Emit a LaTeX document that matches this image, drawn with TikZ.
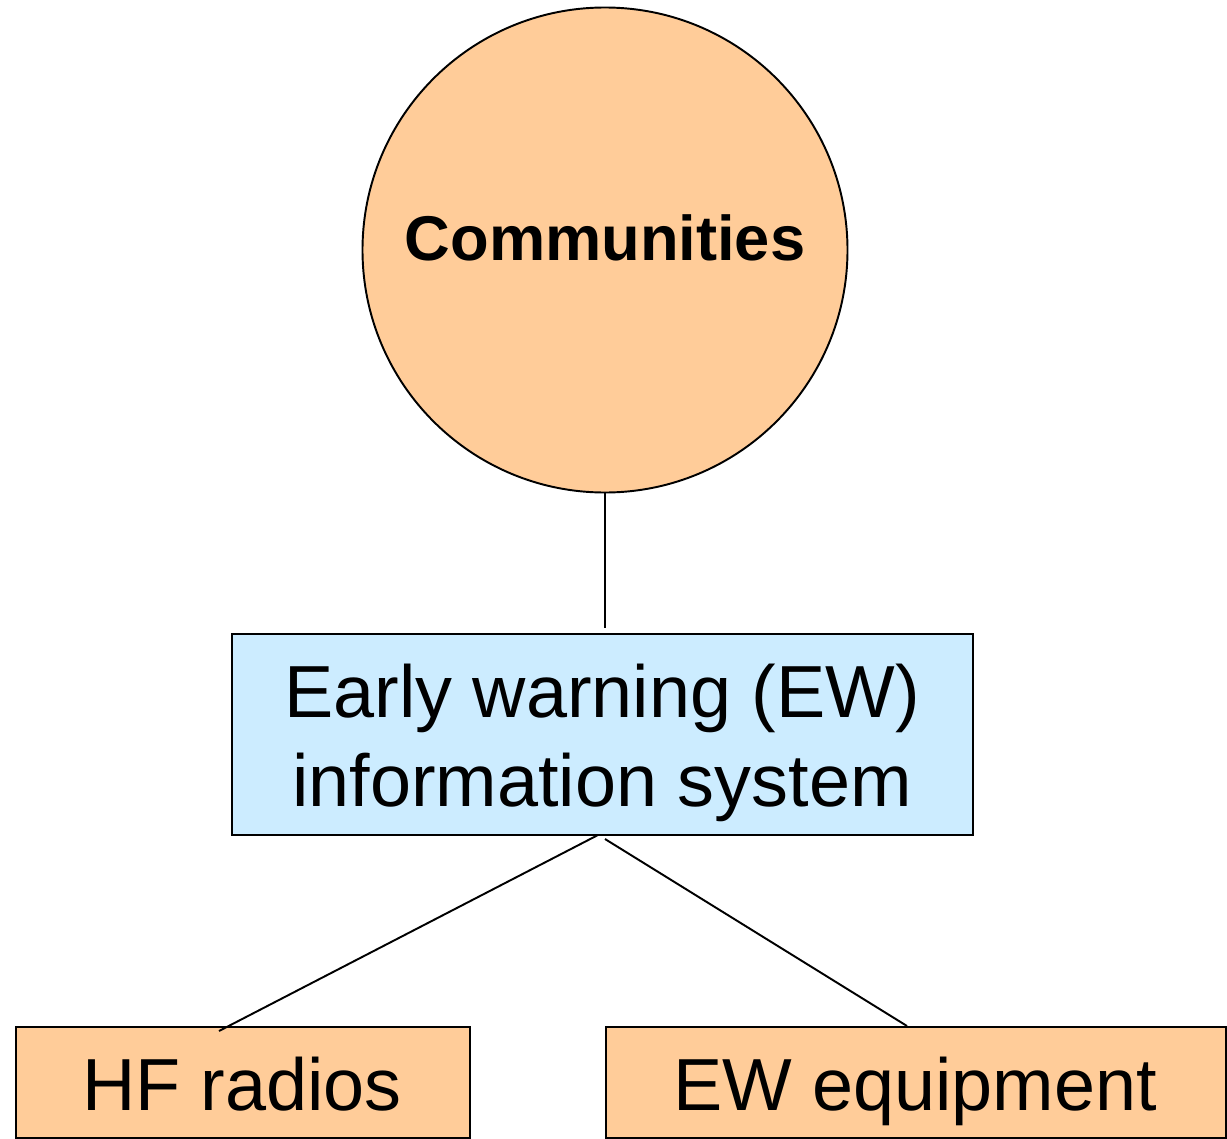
\documentclass[tikz,border=0pt]{standalone}
\usepackage{fontspec}
\setmainfont{Liberation Sans}
\definecolor{peach}{HTML}{FFCC99}
\definecolor{skyb}{HTML}{CCECFF}
\begin{document}
\begin{tikzpicture}[x=0.02cm,y=-0.02cm,
  edge/.style={draw=black, line width=1.1pt},
  boxst/.style={draw=black, line width=1.1pt, inner sep=0pt, anchor=north west},
  bigtext/.style={font=\fontsize{42}{50.5}\selectfont, align=center, inner sep=0pt}]
\useasboundingbox (0,0) rectangle (1227,1139);
\node[circle, draw=black, line width=1.1pt, fill=peach, minimum size=0.02cm*485, inner sep=0pt] (comm) at (605,250) {};
\node[font=\fontsize{36}{43}\selectfont\bfseries] (commtext) at (605,238) {Communities};
\node[boxst, fill=skyb, minimum width=0.02cm*741, minimum height=0.02cm*201] (ew) at (231,633) {};
\node[bigtext] (ewtext) at (602,743) {Early warning (EW)\\information system};
\node[boxst, fill=peach, minimum width=0.02cm*454, minimum height=0.02cm*111] (hf) at (15,1026) {};
\node[bigtext, anchor=base] (hftext) at (242,1110) {HF radios};
\node[boxst, fill=peach, minimum width=0.02cm*620, minimum height=0.02cm*111] (eq) at (605,1026) {};
\node[bigtext, anchor=base] (eqtext) at (915,1110) {EW equipment};
\coordinate (c1) at (605,628);
\coordinate (c2a) at (598,835);
\coordinate (c2b) at (219,1031);
\coordinate (c3a) at (605,839);
\coordinate (c3b) at (907,1026);
\draw[edge] (comm.south) -- (c1);
\draw[edge] (c2a) -- (c2b);
\draw[edge] (c3a) -- (c3b);
\end{tikzpicture}
\end{document}
